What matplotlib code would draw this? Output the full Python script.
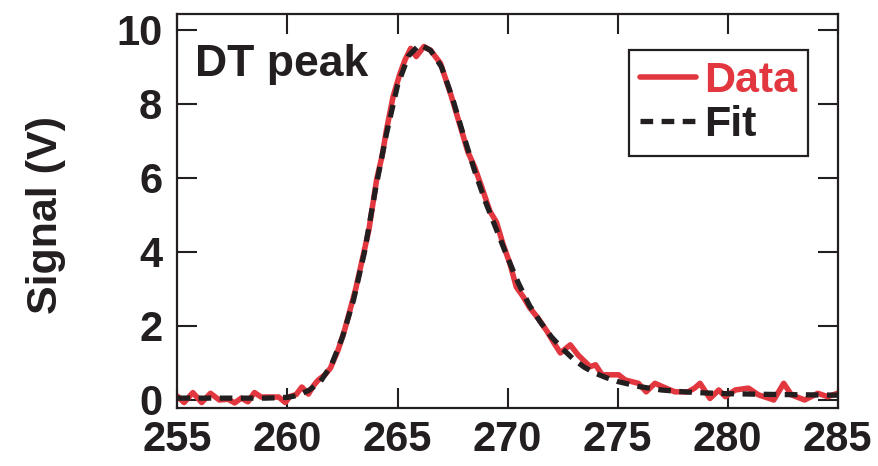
import matplotlib
matplotlib.use("Agg")
import matplotlib.pyplot as plt

plt.rcParams['font.family'] = ['Liberation Sans', 'DejaVu Sans']
plt.rcParams['font.weight'] = 'bold'

RED = '#E2373F'
BLACK = '#231F20'

# Measured data (red)
data_x = [255.0, 255.3, 255.7, 256.1, 256.5, 256.9, 257.3, 257.6, 257.9, 258.2,
          258.5, 258.8, 259.2, 259.6, 259.9, 260.1, 260.4, 260.65, 260.95, 261.2,
          261.4, 261.7, 261.95, 262.3, 262.6, 262.85, 263.1, 263.4, 263.7, 264.05,
          264.3, 264.5, 264.8, 265.1, 265.35, 265.6, 265.85, 266.2, 266.5, 266.95,
          267.45, 267.9, 268.2, 268.5, 268.8, 269.2, 269.5, 269.8, 270.1, 270.4,
          270.7, 271.0, 271.4, 271.8, 272.1, 272.4, 272.85, 273.2, 273.75, 274.0,
          274.3, 275.05, 275.35, 275.95, 276.3, 276.7, 277.2, 277.6, 278.2, 278.5,
          278.75, 279.2, 279.6, 279.9, 280.35, 280.95, 281.4, 282.1, 282.55, 282.9,
          283.5, 284.1, 284.55, 285.0]
data_y = [0.10, -0.07, 0.20, -0.07, 0.18, 0.00, 0.02, -0.08, 0.05, -0.05,
          0.20, 0.08, 0.08, 0.08, -0.07, 0.09, 0.15, 0.35, 0.16, 0.40,
          0.54, 0.68, 0.86, 1.35, 1.90, 2.45, 3.0, 3.8, 4.6, 5.95,
          6.6, 7.3, 8.2, 8.8, 9.2, 9.5, 9.28, 9.55, 9.45, 9.1,
          8.2, 7.3, 6.7, 6.3, 5.8, 5.1, 4.8, 4.2, 3.7, 3.05,
          2.8, 2.5, 2.2, 1.85, 1.55, 1.27, 1.49, 1.22, 0.90, 0.95,
          0.68, 0.68, 0.54, 0.45, 0.22, 0.45, 0.32, 0.22, 0.22, 0.32,
          0.45, 0.04, 0.27, 0.09, 0.27, 0.32, 0.14, 0.0, 0.45, 0.14,
          0.0, 0.18, 0.09, 0.18]

# Fit curve (black dashed)
fit_x = [255, 256, 257, 258, 259, 260, 260.5, 261, 261.5, 262, 262.5, 263, 263.5,
         264, 264.5, 265, 265.5, 266, 266.5, 267, 267.5, 268, 268.5, 269, 269.5,
         270, 270.5, 271, 271.5, 272, 272.5, 273, 273.5, 274, 274.5, 275, 276,
         277, 278, 279, 280, 282, 285]
fit_y = [0.05, 0.05, 0.05, 0.05, 0.05, 0.07, 0.13, 0.27, 0.5, 0.95, 1.7, 2.7, 4.0,
         5.7, 7.2, 8.5, 9.3, 9.6, 9.45, 9.0, 8.15, 7.15, 6.2, 5.35, 4.6,
         3.85, 3.15, 2.55, 2.1, 1.7, 1.38, 1.1, 0.88, 0.72, 0.6, 0.5, 0.36,
         0.27, 0.22, 0.19, 0.17, 0.15, 0.13]

x_ticks = [255, 260, 265, 270, 275, 280, 285]
y_ticks = [0, 2, 4, 6, 8, 10]

fig = plt.figure(figsize=(8.79, 4.66), dpi=100)
ax = fig.add_axes([0.2019, 0.125, 0.751, 0.845])

ax.plot(data_x, data_y, color=RED, lw=4.0, label='Data',
        solid_joinstyle='round', solid_capstyle='round')
ax.plot(fit_x, fit_y, color=BLACK, lw=3.8, dashes=(2.4, 1.6), label='Fit')

ax.set_xlim(255, 285)
ax.set_ylim(-0.21, 10.43)
ax.set_xticks(x_ticks)
ax.set_yticks(y_ticks)
ax.tick_params(direction='in', length=14.4, width=1.5, top=True, right=True,
               labelsize=30, colors=BLACK)
ax.tick_params(axis='x', pad=9)
ax.tick_params(axis='y', pad=11)
for s in ax.spines.values():
    s.set_linewidth(1.6)
    s.set_color(BLACK)

ax.set_ylabel('Signal (V)', fontsize=31, fontweight='bold', color=BLACK)
ax.yaxis.label.set_va('center')
ax.yaxis.set_label_coords(-0.199, 0.489)

ax.text(0.027, 0.8425, 'DT peak', transform=ax.transAxes, fontsize=32,
        fontweight='bold', color=BLACK, va='baseline', ha='left')

leg = ax.legend(loc='upper right', bbox_to_anchor=(0.955, 0.909),
                borderaxespad=0, fontsize=31, frameon=True, fancybox=False,
                framealpha=1, handlelength=1.3, handletextpad=0.2,
                borderpad=0.25, labelspacing=0.1)
leg.get_frame().set_edgecolor(BLACK)
leg.get_frame().set_linewidth(1.6)
for t, c in zip(leg.get_texts(), [RED, BLACK]):
    t.set_color(c)

fig.savefig('out.png', dpi=100)
